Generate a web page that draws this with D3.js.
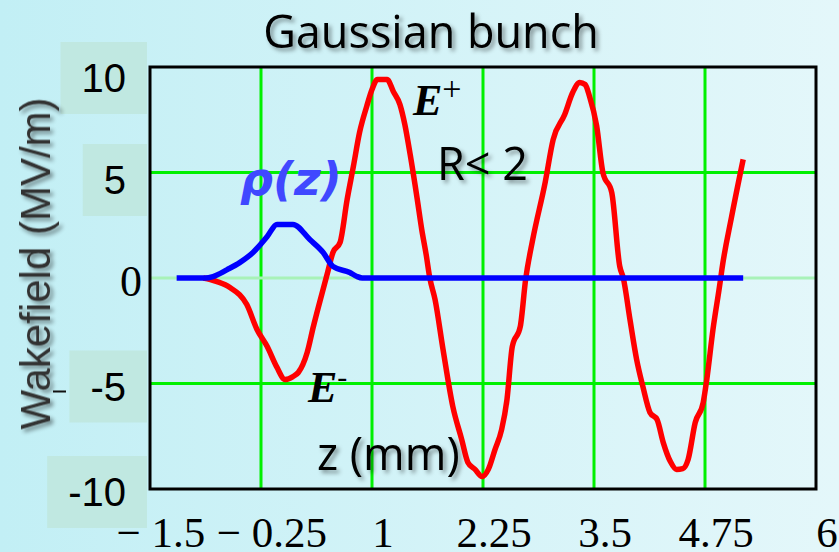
<!DOCTYPE html>
<html>
<head>
<meta charset="utf-8">
<script src="https://cdn.jsdelivr.net/npm/d3@7"></script>
<style>
  html, body { margin: 0; padding: 0; overflow: hidden; background: #d2f3f7; }
  svg { display: block; }
</style>
</head>
<body>
<svg id="chart" width="839" height="552"></svg>
<script>
// Longitudinal wakefield behind a Gaussian bunch, z in mm, field in MV/m
const zWake = [-0.90, -0.82, -0.745, -0.60, -0.41, -0.295, -0.18, -0.07, 0.02, 0.11,
  0.17, 0.27, 0.34, 0.41, 0.47, 0.50, 0.56, 0.64, 0.72, 0.79,
  0.86, 0.94, 1.00, 1.06, 1.17, 1.24, 1.315, 1.37, 1.43, 1.51,
  1.56, 1.61, 1.65, 1.71, 1.80, 1.91, 2.01, 2.08, 2.16, 2.24,
  2.31, 2.385, 2.46, 2.52, 2.58, 2.67, 2.73, 2.81, 2.95, 3.04,
  3.17, 3.26, 3.34, 3.40, 3.45, 3.53, 3.60, 3.70, 3.79, 3.83,
  3.905, 3.98, 4.05, 4.13, 4.21, 4.28, 4.36, 4.43, 4.50, 4.56,
  4.64, 4.73, 4.77, 4.84, 4.92, 4.94, 5.05, 5.18];
const wake = [0, -0.07, -0.17, -0.45, -1.26, -2.44, -3.25, -4.24, -4.81, -4.67,
  -4.48, -3.53, -2.30, -1.16, -0.21, 0.26, 1.21, 1.68, 3.72, 5.28,
  6.90, 8.13, 8.93, 9.41, 9.41, 8.84, 8.22, 7.27, 5.85, 3.72,
  2.30, 1.11, 0.02, -1.02, -3.39, -6.09, -7.65, -8.74, -9.07, -9.41,
  -9.07, -8.13, -7.18, -5.76, -3.25, -2.30, -0.07, 1.82, 4.53, 6.56,
  7.75, 8.79, 9.27, 9.17, 8.60, 7.20, 5.00, 4.05, 0.55, 0.0,
  -1.97, -3.86, -5.14, -6.37, -6.71, -7.80, -8.70, -9.07, -9.03, -8.60,
  -6.85, -5.90, -4.81, -2.44, -0.21, 0.40, 2.91, 5.62];

// Bunch charge profile rho(z), same vertical units
const zRho = [-1.20, -0.88, -0.79, -0.63, -0.49, -0.34, -0.18, -0.07, 0.11, 0.30,
  0.45, 0.56, 0.75, 0.83, 0.89, 5.18];
const rho = [0, 0, 0.07, 0.40, 0.73, 1.21, 1.97, 2.54, 2.54, 1.82,
  1.21, 0.55, 0.26, 0.07, 0, 0];

const xTicks = [-1.5, -0.25, 1, 2.25, 3.5, 4.75, 6];
const xTickLabels = ["\u2212 1.5", "\u2212 0.25", "1", "2.25", "3.5", "4.75", "6"];
const yTicks = [10, 5, 0, -5, -10];
const yTickLabels = ["10", "5", "0", "-5", "-10"];

const W = 839, H = 552;
const plot = { left: 150, top: 67, width: 666, height: 422 };

const svg = d3.select("#chart");
const defs = svg.append("defs");

const bg = defs.append("linearGradient").attr("id", "bg")
  .attr("x1", "0").attr("x2", "1").attr("y1", "0").attr("y2", "0");
bg.append("stop").attr("offset", "0").attr("stop-color", "#c2eff5");
bg.append("stop").attr("offset", "1").attr("stop-color", "#e4f7fa");

defs.append("filter").attr("id", "shadow")
  .attr("x", "-10%").attr("y", "-30%").attr("width", "125%").attr("height", "170%")
  .append("feDropShadow").attr("dx", 3).attr("dy", 3).attr("stdDeviation", 2)
  .attr("flood-color", "#000").attr("flood-opacity", 0.4);
defs.append("filter").attr("id", "shadowRot")
  .attr("x", "-10%").attr("y", "-30%").attr("width", "125%").attr("height", "170%")
  .append("feDropShadow").attr("dx", -3).attr("dy", 3).attr("stdDeviation", 2)
  .attr("flood-color", "#000").attr("flood-opacity", 0.45);

svg.append("rect").attr("width", W).attr("height", H).attr("fill", "url(#bg)");

const x = d3.scaleLinear().domain([-1.5, 6]).range([plot.left, plot.left + plot.width]);
const y = d3.scaleLinear().domain([-10, 10]).range([plot.top + plot.height, plot.top]);

// Grid
const grid = svg.append("g");
grid.selectAll("line.v").data(xTicks.slice(1, -1)).join("line")
  .attr("x1", d => x(d)).attr("x2", d => x(d))
  .attr("y1", plot.top).attr("y2", plot.top + plot.height)
  .attr("stroke", "#00f000").attr("stroke-width", 3);
grid.selectAll("line.h").data(yTicks.slice(1, -1)).join("line")
  .attr("x1", plot.left).attr("x2", plot.left + plot.width)
  .attr("y1", d => y(d)).attr("y2", d => y(d))
  .attr("stroke", d => d === 0 ? "#a8f2b8" : "#00f000").attr("stroke-width", 3);

// Frame
svg.append("rect")
  .attr("x", plot.left).attr("y", plot.top)
  .attr("width", plot.width).attr("height", plot.height)
  .attr("fill", "none").attr("stroke", "#000").attr("stroke-width", 3);

// Y tick labels with shaded boxes
const yLab = svg.append("g");
yTicks.forEach((v, i) => {
  const lbl = yTickLabels[i];
  const isZero = lbl === "0";
  const cy = y(v) + (v > 0 ? 4 + v * 0.7 : 3);
  const t = yLab.append("text")
    .attr("x", isZero ? 142 : 126)
    .attr("y", cy + (isZero ? 15 : 14))
    .attr("text-anchor", "end")
    .attr("font-family", isZero ? "Liberation Serif, serif" : "Liberation Sans, Arial, sans-serif")
    .attr("font-size", isZero ? 44 : 40)
    .attr("fill", "#000")
    .text(lbl);
  if (!isZero) {
    const b = t.node().getBBox();
    yLab.insert("rect", () => t.node())
      .attr("x", b.x - 21).attr("y", cy - 36)
      .attr("width", b.width + 42).attr("height", 72)
      .attr("fill", "#c0e8e1");
  }
});
// small dash beside the -5 label
svg.append("line")
  .attr("x1", 53).attr("x2", 66)
  .attr("y1", y(-5) + 8).attr("y2", y(-5) + 8)
  .attr("stroke", "#111").attr("stroke-width", 2);

// X tick labels
svg.append("g").selectAll("text").data(xTicks).join("text")
  .attr("x", d => x(d) + 11)
  .attr("y", 547)
  .attr("text-anchor", "middle")
  .attr("font-family", "Liberation Serif, 'Times New Roman', serif")
  .attr("font-size", 43)
  .attr("fill", "#000")
  .text((d, i) => xTickLabels[i]);

// Curves
const curveLine = d3.line().x(d => x(d[0])).y(d => y(d[1])).curve(d3.curveMonotoneX);
svg.append("path")
  .datum(zWake.map((z, i) => [z, wake[i]]))
  .attr("d", curveLine)
  .attr("fill", "none").attr("stroke", "#ff0000")
  .attr("stroke-width", 5.5).attr("stroke-linejoin", "round");
svg.append("path")
  .datum(zRho.map((z, i) => [z, rho[i]]))
  .attr("d", curveLine)
  .attr("fill", "none").attr("stroke", "#0000ff")
  .attr("stroke-width", 5.5).attr("stroke-linejoin", "round");

// Titles and annotations
svg.append("text")
  .attr("x", 431).attr("y", 48)
  .attr("text-anchor", "middle")
  .attr("font-family", "'Open Sans', sans-serif")
  .attr("font-size", 45)
  .attr("fill", "#000")
  .attr("filter", "url(#shadow)")
  .text("Gaussian bunch");

svg.append("text")
  .attr("transform", "translate(50,263.5) rotate(-90)")
  .attr("text-anchor", "middle")
  .attr("font-family", "Liberation Sans, Arial, sans-serif")
  .attr("font-size", 42)
  .attr("fill", "#333")
  .attr("filter", "url(#shadowRot)")
  .text("Wakefield (MV/m)");

svg.append("text")
  .attr("x", 240).attr("y", 195)
  .attr("font-family", "'DejaVu Sans', sans-serif")
  .attr("font-weight", "bold").attr("font-style", "italic")
  .attr("font-size", 46)
  .attr("fill", "#4048ff")
  .text("\u03c1(z)");

const ePlus = svg.append("text")
  .attr("x", 413).attr("y", 115)
  .attr("font-family", "Liberation Serif, 'Times New Roman', serif")
  .attr("font-weight", "bold").attr("font-style", "italic")
  .attr("font-size", 44).attr("fill", "#000");
ePlus.append("tspan").text("E");
ePlus.append("tspan").attr("dy", -15).attr("font-size", 34)
  .attr("font-weight", "normal").attr("font-style", "normal").text("+");

const eMinus = svg.append("text")
  .attr("x", 308).attr("y", 402)
  .attr("font-family", "Liberation Serif, 'Times New Roman', serif")
  .attr("font-weight", "bold").attr("font-style", "italic")
  .attr("font-size", 44).attr("fill", "#000");
eMinus.append("tspan").text("E");
eMinus.append("tspan").attr("dy", -15).attr("font-size", 30)
  .attr("font-weight", "normal").attr("font-style", "normal").text("-");

svg.append("text")
  .attr("x", 437).attr("y", 180)
  .attr("font-family", "'Open Sans', sans-serif")
  .attr("font-size", 45).attr("fill", "#000")
  .attr("filter", "url(#shadow)")
  .text("R< 2");

svg.append("text")
  .attr("x", 317).attr("y", 470)
  .attr("font-family", "'Open Sans', sans-serif")
  .attr("font-size", 45).attr("fill", "#000")
  .attr("filter", "url(#shadow)")
  .text("z (mm)");
</script>
</body>
</html>
